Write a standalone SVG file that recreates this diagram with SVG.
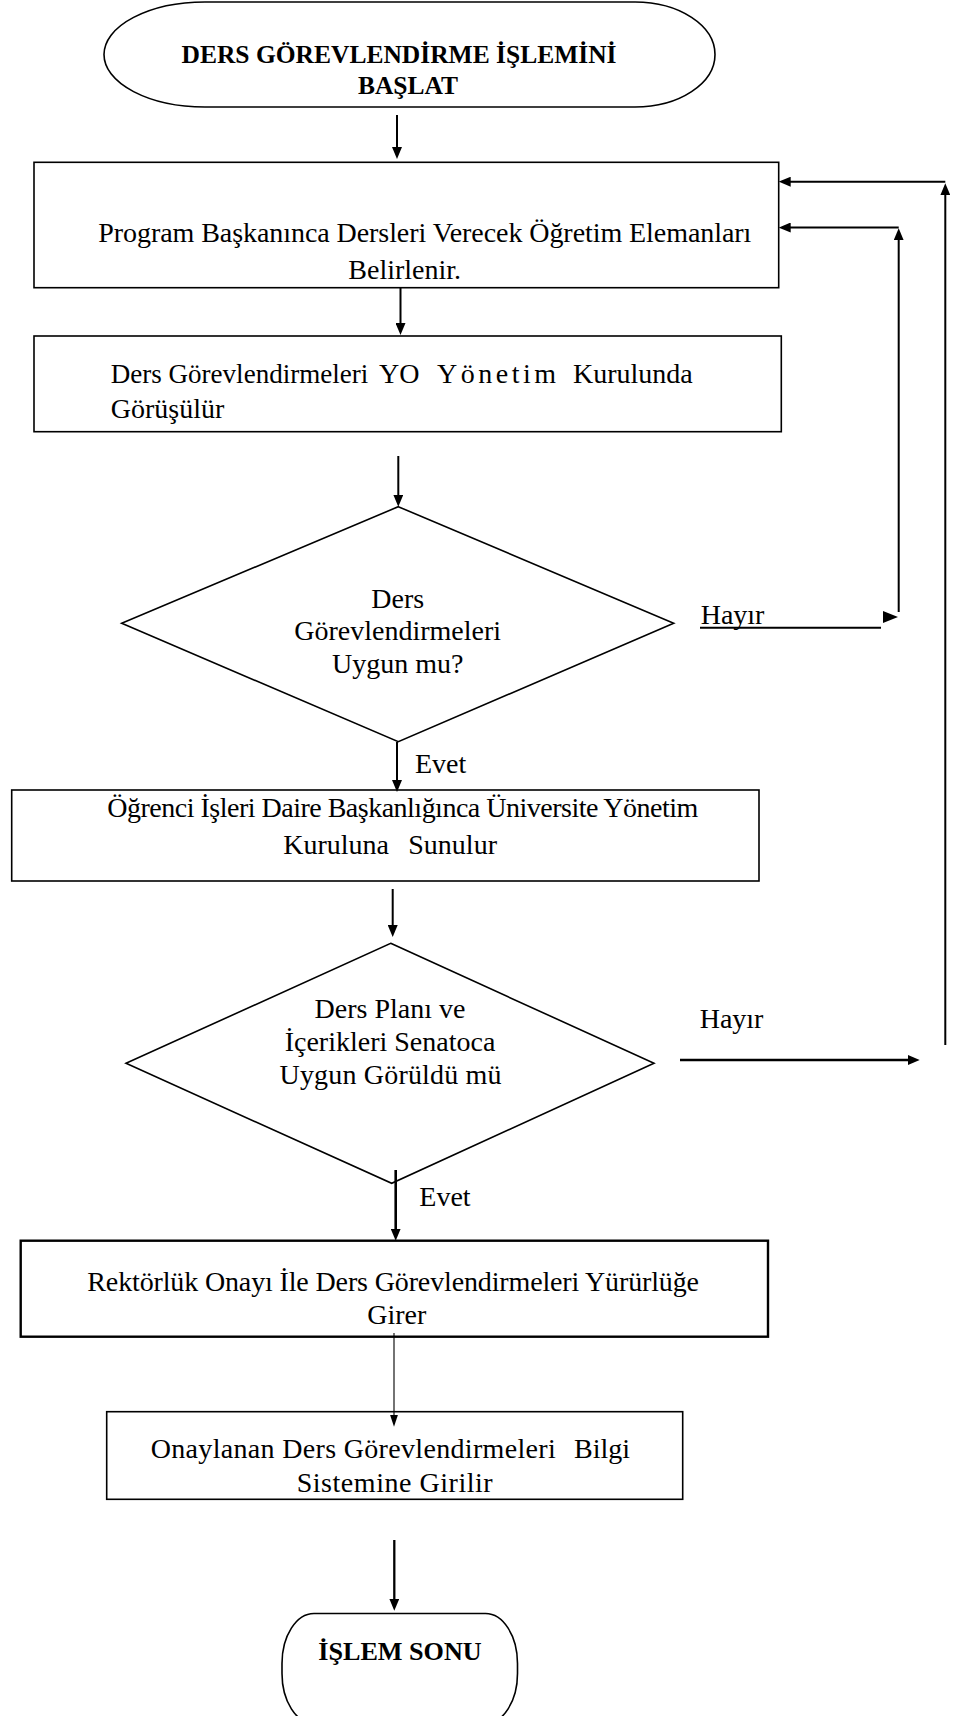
<svg xmlns="http://www.w3.org/2000/svg" width="953" height="1716" viewBox="0 0 953 1716">
<style>
  .shape { fill: #ffffff; stroke: #000000; stroke-width: 1.6; }
  .t { font-family: "Liberation Serif", "Times New Roman", serif; font-size: 28px; fill: #000000; }
  .b { font-weight: bold; font-size: 25.5px; }
  .c { text-anchor: middle; }
  .conn { fill: none; stroke: #000000; stroke-width: 2; }
</style>
<defs>
  <marker id="arr" viewBox="0 0 12 10" refX="6" refY="5" markerWidth="12" markerHeight="10" markerUnits="userSpaceOnUse" orient="auto">
    <path d="M0,0 L12,5 L0,10 z" fill="#000000"/>
  </marker>
  <marker id="arrThin" viewBox="0 0 12 8" refX="6" refY="4" markerWidth="12" markerHeight="8" markerUnits="userSpaceOnUse" orient="auto">
    <path d="M0,0 L12,4 L0,8 z" fill="#000000"/>
  </marker>
</defs>
<rect x="0" y="0" width="953" height="1716" fill="#ffffff"/>

<g id="start">
  <path class="shape" d="M205,2 H635 A80,52.5 0 0 1 635,107 H205 A101,52.5 0 0 1 205,2 Z"/>
  <text class="t b c" x="399" y="63">DERS GÖREVLENDİRME İŞLEMİNİ</text>
  <text class="t b c" x="408" y="94">BAŞLAT</text>
</g>

<g id="box1">
  <rect class="shape" x="34" y="162.3" width="744.7" height="125.4"/>
  <text class="t" x="98.3" y="241.7" textLength="653" lengthAdjust="spacing">Program Başkanınca Dersleri Verecek Öğretim Elemanları</text>
  <text class="t" x="348.3" y="279">Belirlenir.</text>
</g>

<g id="box2">
  <rect class="shape" x="34" y="336" width="747.3" height="95.7"/>
  <text class="t" x="110.7" y="383.3" textLength="257.6" lengthAdjust="spacingAndGlyphs">Ders Görevlendirmeleri</text>
  <text class="t" x="379" y="383.3">YO</text>
  <text class="t" x="437" y="383.3" letter-spacing="3.5">Yönetim</text>
  <text class="t" x="573" y="383.3">Kurulunda</text>
  <text class="t" x="110.7" y="417.7">Görüşülür</text>
</g>

<g id="decision1">
  <polygon class="shape" points="398.3,506.7 673.7,623.3 398.3,741.7 121.7,623.3"/>
  <text class="t c" x="397.7" y="607.7">Ders</text>
  <text class="t c" x="397.7" y="640">Görevlendirmeleri</text>
  <text class="t c" x="397.7" y="673.3">Uygun mu?</text>
</g>

<g id="box3">
  <rect class="shape" x="11.7" y="790" width="747.3" height="91"/>
  <text class="t" x="107.3" y="816.7" textLength="591" lengthAdjust="spacing">Öğrenci İşleri Daire Başkanlığınca Üniversite Yönetim</text>
  <text class="t" x="283.3" y="854">Kuruluna</text>
  <text class="t" x="408.3" y="854">Sunulur</text>
</g>

<g id="decision2">
  <polygon class="shape" points="390.7,943.3 654,1063.3 391.7,1183.3 126,1063.3"/>
  <text class="t c" x="390" y="1017.7">Ders Planı ve</text>
  <text class="t c" x="390" y="1051">İçerikleri Senatoca</text>
  <text class="t c" x="390.5" y="1084.3" textLength="222" lengthAdjust="spacing">Uygun Görüldü mü</text>
</g>

<g id="box4">
  <rect class="shape" x="20.7" y="1240.7" width="747.3" height="96" style="stroke-width:2.4"/>
  <text class="t" x="87.3" y="1291" textLength="611.7" lengthAdjust="spacing">Rektörlük Onayı İle Ders Görevlendirmeleri Yürürlüğe</text>
  <text class="t c" x="396.7" y="1324">Girer</text>
</g>

<g id="box5">
  <rect class="shape" x="106.7" y="1411.7" width="576" height="87.6"/>
  <text class="t" x="150.7" y="1457.7" textLength="405" lengthAdjust="spacing">Onaylanan Ders Görevlendirmeleri</text>
  <text class="t" x="574" y="1457.7">Bilgi</text>
  <text class="t c" x="394.7" y="1491.7" textLength="196" lengthAdjust="spacing">Sistemine Girilir</text>
</g>

<g id="end">
  <rect class="shape" x="282" y="1613.5" width="235.5" height="110" rx="32" ry="50"/>
  <text class="t b" x="318.3" y="1660" textLength="163.4" lengthAdjust="spacingAndGlyphs">İŞLEM SONU</text>
</g>

<g id="labels">
  <text class="t" x="415" y="772.7">Evet</text>
  <text class="t" x="419.3" y="1206">Evet</text>
  <text class="t" x="700.7" y="624">Hayır</text>
  <text class="t" x="699.7" y="1027.7">Hayır</text>
</g>

<g id="connectors">
  <path class="conn" d="M397,115 V153" marker-end="url(#arr)"/>
  <path class="conn" d="M400.5,288 V329" marker-end="url(#arr)"/>
  <path class="conn" d="M398.3,456 V500.7" marker-end="url(#arr)"/>
  <path class="conn" d="M397,742 V786" marker-end="url(#arr)"/>
  <path class="conn" d="M392.7,889 V931" marker-end="url(#arr)"/>
  <path class="conn" d="M395.7,1170 V1234.7" style="stroke-width:2.6" marker-end="url(#arr)"/>
  <path class="conn" d="M394,1333 V1420.7" style="stroke-width:1.1" marker-end="url(#arrThin)"/>
  <path class="conn" d="M394.3,1540 V1604.7" style="stroke-width:2.3" marker-end="url(#arr)"/>
  <path class="conn" d="M700,627.7 H881"/>
  <polygon points="883,611 898,617 883,623" fill="#000000"/>
  <path class="conn" d="M898.7,612 V234.3" marker-end="url(#arr)"/>
  <path class="conn" d="M898.7,227.5 H784.7" marker-end="url(#arr)"/>
  <path class="conn" d="M680,1060 H913.7" style="stroke-width:2.4" marker-end="url(#arr)"/>
  <path class="conn" d="M945.3,1045 V189.3" marker-end="url(#arr)"/>
  <path class="conn" d="M945.3,181.7 H784.7" marker-end="url(#arr)"/>
</g>
</svg>
